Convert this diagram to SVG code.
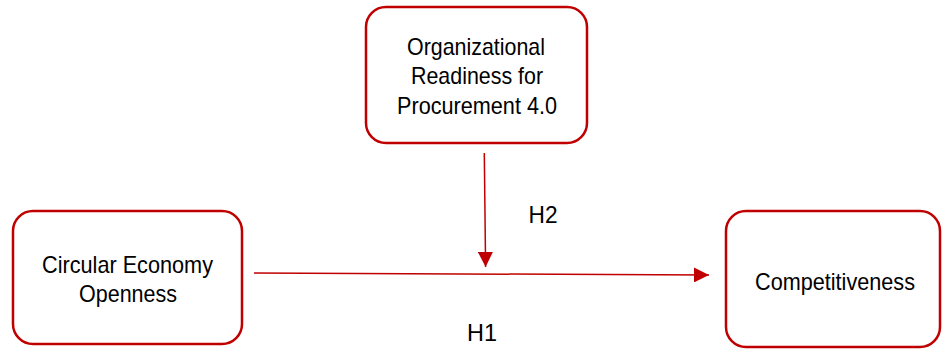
<svg xmlns="http://www.w3.org/2000/svg" width="942" height="349" viewBox="0 0 942 349">
<style>
.box{fill:#fff;stroke:#C00000;stroke-width:2.5}
.t{font-family:"Liberation Sans",Arial,sans-serif;font-size:24px;fill:#000;text-anchor:middle}
.c{stroke:#C00000;stroke-width:1.5;fill:none}
</style>
<defs>
<marker id="ah2" markerWidth="15" markerHeight="15" refX="15" refY="7.5" orient="auto" markerUnits="userSpaceOnUse" viewBox="0 0 15 15">
<path d="M0,0 L15,7.5 L0,15 z" fill="#C00000"/>
</marker>
</defs>
<rect width="942" height="349" fill="#fff"/>
<g id="connectors">
<line class="c" x1="254" y1="273" x2="709" y2="275" marker-end="url(#ah2)"/>
<line class="c" x1="484.3" y1="153" x2="485.6" y2="267" marker-end="url(#ah2)"/>
<text class="t" x="543" y="223" textLength="29" lengthAdjust="spacingAndGlyphs">H2</text>
<text class="t" x="482" y="341" textLength="30" lengthAdjust="spacingAndGlyphs">H1</text>
</g>
<g id="readiness">
<rect class="box" x="366" y="7" width="221" height="136" rx="20"/>
<text class="t" x="476" y="55" textLength="138" lengthAdjust="spacingAndGlyphs">Organizational</text>
<text class="t" x="477" y="84" textLength="132" lengthAdjust="spacingAndGlyphs">Readiness for</text>
<text class="t" x="477" y="114" textLength="160" lengthAdjust="spacingAndGlyphs">Procurement 4.0</text>
</g>
<g id="circular">
<rect class="box" x="13" y="211" width="229" height="133" rx="20"/>
<text class="t" x="127.5" y="273" textLength="171" lengthAdjust="spacingAndGlyphs">Circular Economy</text>
<text class="t" x="128" y="302" textLength="98" lengthAdjust="spacingAndGlyphs">Openness</text>
</g>
<g id="competitiveness">
<rect class="box" x="726" y="211" width="214" height="136" rx="20"/>
<text class="t" x="835" y="290" textLength="160" lengthAdjust="spacingAndGlyphs">Competitiveness</text>
</g>
</svg>
